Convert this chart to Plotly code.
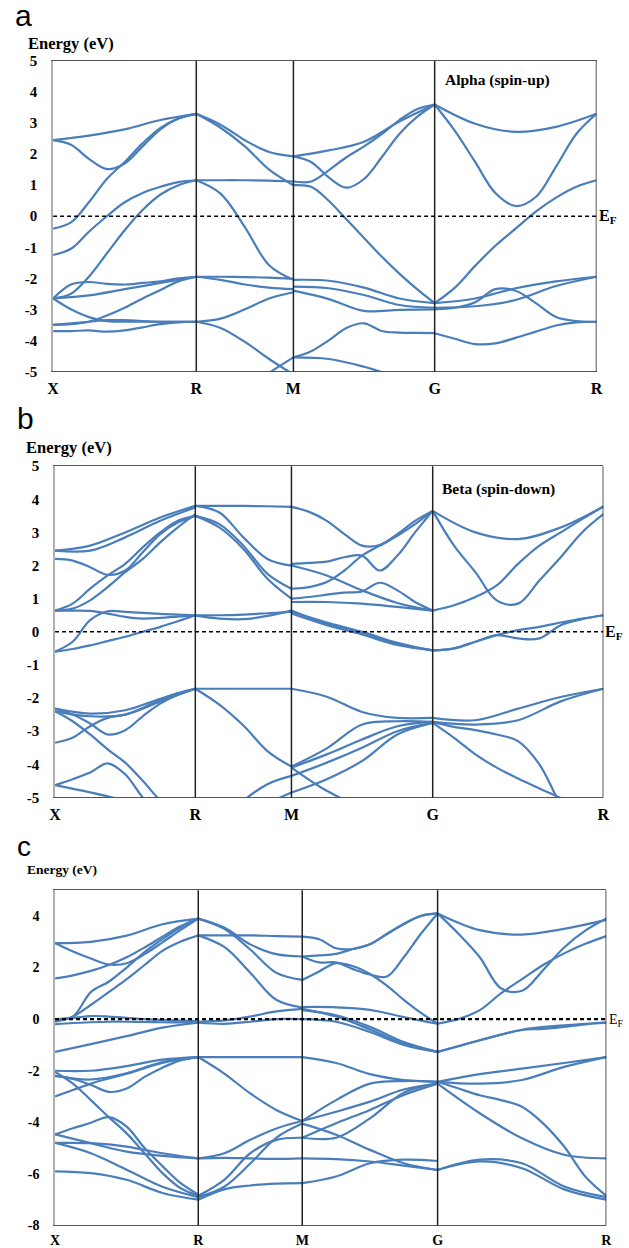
import plotly.graph_objects as go

# ---------------- data ----------------
K_LABELS = ["X", "R", "M", "G", "R"]
# high-symmetry positions along the k-path (per panel)
K_A = [0.0, 1.46, 2.45, 3.89, 5.54]
K_B = [0.0, 1.43, 2.41, 3.85, 5.59]
K_C = [0.0, 1.46, 2.52, 3.90, 5.62]

# Panel a (Alpha, spin-up): band energies (eV) sampled evenly along each segment
A_XR = [
    [2.45, 2.6, 2.8, 3.1, 3.3],
    [2.45, 2.3, 1.85, 1.52, 1.7, 2.25, 2.8, 3.15, 3.3],
    [-0.4, -0.2, 0.45, 1.2, 1.75, 2.35, 2.85, 3.15, 3.3],
    [-1.25, -1.05, -0.5, 0.0, 0.45, 0.75, 0.95, 1.1, 1.16],
    [-2.65, -2.5, -1.95, -1.2, -0.45, 0.2, 0.7, 1.0, 1.16],
    [-2.65, -2.2, -2.12, -2.18, -2.2, -2.15, -2.1, -2.0, -1.95],
    [-2.65, -2.55, -2.35, -2.15, -1.95],
    [-2.65, -3.0, -3.25, -3.38, -3.4, -3.4, -3.4, -3.4, -3.4],
    [-3.5, -3.48, -3.4, -3.2, -2.95, -2.65, -2.38, -2.1, -1.95],
    [-3.7, -3.7, -3.68, -3.72, -3.68, -3.58, -3.48, -3.42, -3.4],
    [-3.5, -3.45, -3.4, -3.35, -3.35, -3.38, -3.4, -3.4, -3.4],
]
A_RM = [
    [3.3, 2.95, 2.45, 2.07, 1.93],
    [3.3, 2.85, 2.25, 1.5, 1.0],
    [1.16, 1.16, 1.16, 1.15, 1.12],
    [1.16, 0.73, -0.35, -1.58, -2.05],
    [-1.95, -1.95, -1.96, -1.98, -2.02],
    [-1.95, -2.05, -2.2, -2.3, -2.35],
    [-3.4, -3.3, -3.0, -2.65, -2.45],
    [-3.4, -3.6, -4.05, -4.6, -5.1],
    [-6.5, -6.0, -5.6, -5.05, -4.55],
]
A_MG = [
    [1.93, 2.12, 2.4, 3.05, 3.6],
    [1.93, 1.75, 1.25, 0.92, 1.2, 1.9, 2.65, 3.2, 3.6],
    [1.12, 1.12, 1.48, 1.9, 2.25, 2.65, 3.1, 3.45, 3.6],
    [1.0, 0.95, 0.5, -0.1, -0.7, -1.3, -1.85, -2.35, -2.8],
    [-2.05, -2.08, -2.3, -2.65, -2.8],
    [-2.27, -2.32, -2.54, -2.86, -2.95],
    [-2.4, -2.67, -3.05, -3.02, -3.0],
    [-4.55, -4.35, -4.0, -3.6, -3.45, -3.7, -3.75, -3.76, -3.77],
    [-4.55, -4.6, -4.85, -5.2, -5.5],
]
A_GR = [
    [3.6, 2.98, 2.72, 2.88, 3.3],
    [3.6, 2.75, 1.75, 0.75, 0.33, 0.62, 1.6, 2.65, 3.3],
    [-2.8, -2.3, -1.6, -0.95, -0.4, 0.15, 0.6, 0.95, 1.16],
    [-2.8, -2.65, -2.32, -2.1, -1.95],
    [-2.95, -2.9, -2.7, -2.25, -1.95],
    [-3.0, -2.95, -2.77, -2.35, -2.4, -2.8, -3.25, -3.38, -3.4],
    [-3.77, -3.95, -4.12, -4.1, -3.92, -3.72, -3.52, -3.42, -3.4],
]

# Panel b (Beta, spin-down)
B_XR = [
    [2.45, 2.6, 3.0, 3.45, 3.8],
    [2.45, 2.45, 2.85, 3.35, 3.75],
    [2.2, 2.15, 1.95, 1.72, 1.85, 2.4, 2.95, 3.3, 3.5],
    [0.64, 0.85, 1.3, 1.7, 2.05, 2.55, 3.0, 3.35, 3.5],
    [0.64, 0.7, 0.95, 1.35, 1.8, 2.2, 2.7, 3.15, 3.55],
    [0.64, 0.64, 0.63, 0.55, 0.45, 0.4, 0.42, 0.46, 0.49],
    [-0.6, -0.3, 0.35, 0.62, 0.6, 0.57, 0.54, 0.52, 0.5],
    [-0.6, -0.52, -0.41, -0.28, -0.15, 0.0, 0.15, 0.32, 0.5],
    [-2.32, -2.47, -2.37, -2.02, -1.72],
    [-2.4, -2.55, -2.5, -2.1, -1.72],
    [-2.32, -2.5, -2.77, -3.1, -2.97, -2.55, -2.17, -1.9, -1.72],
    [-3.35, -3.2, -2.85, -2.6, -2.5, -2.3, -2.05, -1.85, -1.72],
    [-2.4, -2.7, -3.1, -3.55, -3.95, -4.5, -5.1, -5.6, -6.0],
    [-4.63, -4.45, -4.25, -3.97, -4.3, -5.0, -5.5, -6.0, -6.3],
    [-4.63, -4.85, -5.1, -5.4, -5.7],
]
B_RM = [
    [3.8, 3.8, 3.8, 3.79, 3.77],
    [3.8, 3.6, 2.85, 2.2, 2.0],
    [3.5, 3.25, 2.6, 1.75, 1.3],
    [3.5, 3.15, 2.5, 1.6, 1.0],
    [0.49, 0.4, 0.38, 0.48, 0.64],
    [0.5, 0.5, 0.52, 0.56, 0.6],
    [-1.72, -1.72, -1.72, -1.72, -1.72],
    [-1.72, -2.2, -2.83, -3.6, -4.07],
    [-6.0, -5.8, -5.1, -4.6, -4.35],
    [-6.5, -6.2, -5.7, -5.2, -4.85],
]
B_MG = [
    [3.77, 3.62, 3.35, 2.95, 2.6, 2.62, 2.95, 3.35, 3.65],
    [2.05, 2.08, 2.12, 2.25, 2.3, 1.85, 2.3, 3.0, 3.65],
    [1.3, 1.35, 1.5, 1.85, 2.3, 2.6, 2.9, 3.25, 3.65],
    [2.0, 1.7, 1.25, 0.87, 0.64],
    [1.0, 1.05, 1.12, 1.18, 1.22, 1.48, 1.25, 0.9, 0.64],
    [0.9, 0.9, 0.85, 0.75, 0.64],
    [0.64, 0.24, -0.03, -0.36, -0.56],
    [0.6, 0.28, 0.0, -0.33, -0.56],
    [0.55, 0.2, -0.08, -0.4, -0.56],
    [-1.72, -1.96, -2.42, -2.6, -2.6],
    [-4.07, -3.52, -2.8, -2.7, -2.72],
    [-4.1, -3.7, -3.25, -2.85, -2.72],
    [-4.35, -3.95, -3.5, -3.0, -2.75],
    [-4.85, -4.45, -3.9, -3.1, -2.75],
    [-4.1, -4.8, -5.3, -5.6, -5.8],
]
B_GR = [
    [3.65, 3.0, 2.8, 3.15, 3.78],
    [3.65, 2.6, 1.8, 0.95, 0.85, 1.55, 2.25, 3.0, 3.55],
    [0.64, 0.8, 1.05, 1.4, 2.05, 2.6, 3.0, 3.4, 3.78],
    [-0.56, -0.5, -0.3, -0.1, 0.05, 0.15, 0.28, 0.4, 0.5],
    [-0.56, -0.5, -0.3, -0.1, -0.2, -0.2, 0.2, 0.38, 0.5],
    [-2.6, -2.67, -2.32, -1.97, -1.72],
    [-2.72, -2.8, -2.67, -2.1, -1.72],
    [-2.72, -2.87, -2.97, -3.1, -3.3, -4.0, -5.2, -6.0, -6.5],
    [-2.75, -3.2, -3.7, -4.1, -4.43, -4.73, -5.02, -5.4, -5.8],
]

# Panel c (total)
C_XR = [
    [2.95, 3.0, 3.24, 3.68, 3.9],
    [2.95, 2.62, 2.35, 2.12, 2.17, 2.52, 2.98, 3.45, 3.9],
    [1.58, 1.7, 1.87, 2.1, 2.4, 2.78, 3.2, 3.6, 3.9],
    [-0.05, 0.1, 1.05, 1.45, 2.0, 2.6, 3.1, 3.55, 3.9],
    [-0.1, 0.1, 0.55, 1.05, 1.55, 2.1, 2.65, 3.0, 3.25],
    [0.0, 0.05, 0.12, 0.1, 0.05, 0.0, -0.03, -0.06, -0.08],
    [-0.2, -0.15, -0.12, -0.1, -0.1, -0.11, -0.12, -0.13, -0.14],
    [-1.27, -0.97, -0.66, -0.33, -0.14],
    [-2.0, -2.0, -1.82, -1.57, -1.47],
    [-2.2, -2.34, -2.1, -1.66, -1.47],
    [-2.2, -2.32, -2.55, -2.82, -2.69, -2.24, -1.88, -1.6, -1.47],
    [-3.0, -2.75, -2.5, -2.3, -2.12, -1.9, -1.7, -1.55, -1.47],
    [-2.05, -2.5, -3.14, -3.8, -4.43, -5.2, -5.97, -6.55, -6.85],
    [-4.47, -4.23, -4.02, -3.8, -4.17, -5.0, -5.7, -6.35, -6.8],
    [-4.47, -4.81, -5.14, -5.3, -5.4],
    [-4.8, -4.81, -4.94, -5.2, -5.4],
    [-4.8, -5.2, -5.84, -6.5, -6.9],
    [-5.9, -5.97, -6.23, -6.74, -7.0],
]
C_RM = [
    [3.9, 3.55, 2.9, 2.52, 2.43],
    [3.9, 3.5, 2.7, 1.8, 1.52],
    [3.25, 3.25, 3.25, 3.22, 3.2],
    [3.25, 2.8, 1.8, 0.75, 0.45],
    [-0.1, -0.05, 0.1, 0.3, 0.4],
    [-0.14, -0.18, -0.1, 0.0, 0.0],
    [-1.47, -1.47, -1.47, -1.47, -1.47],
    [-1.47, -2.11, -2.88, -3.52, -3.95],
    [-5.4, -5.38, -5.4, -5.42, -5.4],
    [-5.4, -5.2, -4.68, -4.24, -3.95],
    [-6.85, -6.23, -5.2, -4.68, -4.6],
    [-6.9, -6.5, -5.6, -4.6, -4.05],
    [-7.0, -6.6, -6.45, -6.38, -6.36],
]
C_MG = [
    [3.2, 3.1, 2.75, 2.72, 2.9, 3.3, 3.68, 4.0, 4.1],
    [2.43, 2.47, 2.53, 2.72, 2.9, 3.3, 3.7, 4.0, 4.1],
    [2.43, 2.2, 2.2, 1.94, 1.73, 1.65, 2.4, 3.3, 4.1],
    [1.52, 1.85, 2.17, 2.05, 1.75, 1.3, 0.75, 0.25, -0.18],
    [0.47, 0.46, 0.36, 0.08, -0.18],
    [0.35, 0.15, -0.3, -0.89, -1.27],
    [0.4, 0.1, -0.4, -0.95, -1.27],
    [0.0, -0.1, -0.5, -1.0, -1.27],
    [-1.47, -1.7, -2.13, -2.36, -2.43],
    [-3.95, -3.14, -2.5, -2.4, -2.43],
    [-3.95, -3.59, -3.2, -2.73, -2.5],
    [-4.6, -4.04, -3.52, -2.94, -2.5],
    [-4.6, -4.6, -3.85, -2.85, -2.5],
    [-4.05, -4.48, -5.07, -5.59, -5.85],
    [-5.4, -5.43, -5.52, -5.68, -5.85],
    [-6.36, -6.1, -5.59, -5.45, -5.5],
]
C_GR = [
    [4.1, 3.45, 3.28, 3.5, 3.85],
    [4.1, 3.3, 2.4, 1.2, 1.1, 1.9, 2.78, 3.43, 3.9],
    [-0.18, 0.01, 0.35, 1.0, 1.55, 2.1, 2.55, 2.92, 3.22],
    [-1.27, -0.82, -0.41, -0.24, -0.12],
    [-1.27, -1.05, -0.82, -0.6, -0.42, -0.38, -0.3, -0.2, -0.14],
    [-2.43, -2.13, -1.92, -1.7, -1.47],
    [-2.43, -2.5, -2.36, -1.85, -1.47],
    [-2.43, -2.69, -2.95, -3.14, -3.4, -4.04, -4.94, -6.1, -6.85],
    [-2.5, -3.65, -4.62, -5.26, -5.4],
    [-5.85, -5.45, -5.59, -6.49, -6.9],
    [-5.85, -5.52, -5.78, -6.6, -7.0],
]

Y_TICKS_AB = [5, 4, 3, 2, 1, 0, -1, -2, -3, -4, -5]
Y_TICKS_C = [4, 2, 0, -2, -4, -6, -8]

# ---------------- layout helpers ----------------
W, H = 629, 1248
def px(x):
    return x / W
def py(y):
    # vertical placement, compensated for the observed page capture
    return 1 - ((y - 7.8) / 0.987) / H

BLUE = "#4a7ebb"
SERIF = "Liberation Serif, Times New Roman, serif"
SANS = "Liberation Sans, Arial, sans-serif"

def band_xy(K, segments):
    xs, ys = [], []
    for s, curves in enumerate(segments):
        k0, k1 = K[s], K[s + 1]
        for c in curves:
            n = len(c)
            for i, e in enumerate(c):
                xs.append(k0 + (k1 - k0) * i / (n - 1))
                ys.append(e)
            xs.append(None)
            ys.append(None)
    return xs, ys

fig = go.Figure()
panels = [
    ("x", "y", K_A, [A_XR, A_RM, A_MG, A_GR]),
    ("x2", "y2", K_B, [B_XR, B_RM, B_MG, B_GR]),
    ("x3", "y3", K_C, [C_XR, C_RM, C_MG, C_GR]),
]
for xa, ya, K, segs in panels:
    xs, ys = band_xy(K, segs)
    fig.add_trace(go.Scatter(
        x=xs, y=ys, xaxis=xa, yaxis=ya, mode="lines",
        line=dict(color=BLUE, width=2.2, shape="spline", smoothing=1.0),
        connectgaps=False, hoverinfo="skip", showlegend=False))

def xaxis_cfg(dom, K, anchor, size):
    return dict(domain=dom, anchor=anchor, range=[K[0], K[-1]],
                tickmode="array", tickvals=K, ticktext=K_LABELS,
                tickfont=dict(family=SERIF, size=size, color="black", weight="bold"),
                showgrid=False, zeroline=False, showline=True, linecolor="#555",
                linewidth=1.2, mirror=True, ticks="", ticklabelstandoff=2)

def yaxis_cfg(dom, rng, ticks, anchor, size):
    return dict(domain=dom, anchor=anchor, range=rng, tickmode="array",
                tickvals=ticks, ticktext=[str(t) for t in ticks],
                tickfont=dict(family=SERIF, size=size, color="black", weight="bold"),
                showgrid=False, zeroline=False, showline=True, linecolor="#b0b0b0",
                linewidth=1.5, ticks="", ticklabelstandoff=11)

fig.update_layout(
    width=W, height=H, margin=dict(l=0, r=0, t=0, b=0),
    paper_bgcolor="white", plot_bgcolor="white",
    xaxis=xaxis_cfg([px(48), px(602)], K_A, "y", 16),
    yaxis=yaxis_cfg([py(372), py(61)], [-5, 5], Y_TICKS_AB, "x", 15),
    xaxis2=xaxis_cfg([px(50), px(609)], K_B, "y2", 16),
    yaxis2=yaxis_cfg([py(799), py(467)], [-5, 5], Y_TICKS_AB, "x2", 15),
    xaxis3=xaxis_cfg([px(50), px(612)], K_C, "y3", 14),
    yaxis3=yaxis_cfg([py(1228), py(892)], [-8, 5], Y_TICKS_C, "x3", 14),
)

shapes = []
for (xa, ya, K, _), dash_w in zip(panels, [1.4, 1.4, 2.2]):
    yd = ya + " domain"
    for k in K[1:]:
        shapes.append(dict(type="line", xref=xa, yref=yd, x0=k, x1=k, y0=0, y1=1,
                           line=dict(color="#222", width=1.5), layer="above"))
    shapes.append(dict(type="line", xref=xa, yref=ya, x0=K[0], x1=K[-1], y0=0, y1=0,
                       line=dict(color="black", width=dash_w, dash="4px,3px"), layer="above"))
fig.update_layout(shapes=shapes)

ann = []
def add_text(text, x, y, size, family=SERIF, bold=True, xanchor="left"):
    ann.append(dict(text=text, x=px(x), y=py(y), xref="paper", yref="paper",
                    xanchor=xanchor, yanchor="middle", showarrow=False,
                    font=dict(family=family, size=size, color="black",
                              weight="bold" if bold else "normal")))

add_text("a", 7, 15, 30, SANS, False)
add_text("Energy (eV)", 20, 43, 16.5)
add_text("Alpha (spin-up)", 445, 80, 15.5)
add_text("E<sub>F</sub>", 603, 217, 16)

add_text("b", 9, 419, 30, SANS, False)
add_text("Energy (eV)", 18, 448, 16.5)
add_text("Beta (spin-down)", 442, 490, 15.5)
add_text("E<sub>F</sub>", 609, 634, 16)

add_text("c", 9, 848, 28, SANS, False)
add_text("Energy (eV)", 19, 871, 13.5)
add_text("E<sub>F</sub>", 613, 1023, 14, bold=False)

fig.update_layout(annotations=ann)
fig.write_html(
    "out.html",
    config={"displayModeBar": False},
    post_script="document.documentElement.style.overflow='hidden';"
                "document.body.style.margin='0';document.body.style.overflow='hidden';",
)
